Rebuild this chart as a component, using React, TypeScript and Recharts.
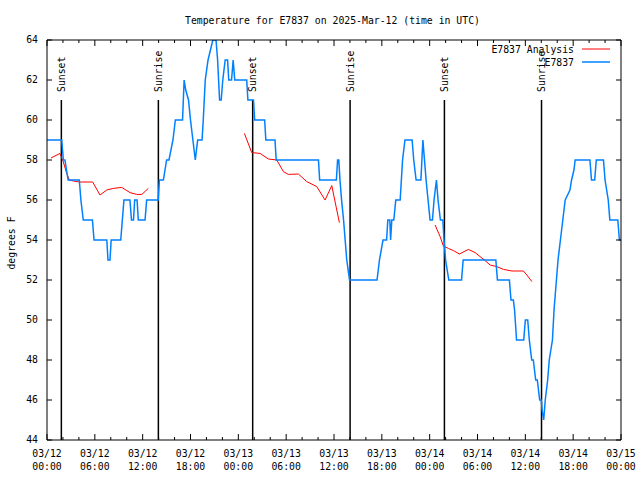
import { LineChart, Line, XAxis, YAxis, ReferenceLine } from "recharts";

// observed temperature, hours since 03/12 00:00 UTC
const blueHours = [
  0, 1.85, 2.05, 2.25, 2.65, 4.05, 4.25, 4.55, 5.7, 5.9, 7.5, 7.65, 7.9, 8.05, 9.25, 9.45, 9.65,
  10.4, 10.6, 10.85, 11.0, 11.3, 11.45, 12.3, 12.5, 13.95, 14.1, 14.6, 15.0, 15.3, 15.8, 16.1,
  17.0, 17.2, 17.4, 17.75, 18.0, 18.3, 18.6, 18.75, 18.9, 19.45, 19.6, 19.85, 20.2, 20.8, 21.2,
  21.4, 21.65, 21.85, 22.05, 22.35, 22.65, 22.8, 23.15, 23.35, 23.55, 25.05, 25.2, 25.9, 26.05,
  27.3, 27.45, 28.6, 28.75, 34.05, 34.2, 36.3, 36.45, 36.6, 36.75, 36.95, 37.2, 37.4, 37.6, 37.95,
  41.4, 41.7, 42.15, 42.6, 42.75, 43.0, 43.1, 43.25, 43.5, 43.75, 44.3, 44.45, 44.6, 44.9, 45.8,
  46.0, 46.3, 46.9, 47.15, 47.35, 47.55, 47.8, 48.05, 48.35, 48.55, 48.85, 49.05, 49.35, 49.65,
  49.8, 50.0, 50.4, 52.0, 52.2, 56.3, 56.5, 58.0, 58.2, 58.5, 58.65, 58.9, 59.8, 60.0, 60.3, 60.5,
  60.8, 61.0, 61.3, 61.5, 61.8, 62.0, 62.1, 62.3, 62.5, 62.8, 63.0, 63.4, 63.6, 63.9, 64.1, 64.4,
  64.7, 65.0, 65.6, 65.8, 66.1, 66.25, 68.1, 68.3, 68.7, 68.9, 69.8, 70.0, 70.4, 70.6, 71.6, 71.8, 72,
];
const blueTemps = [
  59, 59, 58, 58, 57, 57, 56, 55, 55, 54, 54, 53, 53, 54, 54, 55, 56,
  56, 55, 55, 56, 56, 55, 55, 56, 56, 57, 57, 58, 58, 59, 60,
  60, 62, 61.5, 61, 60, 59, 58, 58.5, 59, 59, 60, 62, 63, 64, 64,
  63, 61, 61, 62, 63, 63, 62, 62, 63, 62, 62, 61, 61, 60,
  60, 59, 59, 58, 58, 57, 57, 58, 58, 57, 56, 55, 54, 53, 52,
  52, 53, 54, 54, 55, 55, 54, 55, 55, 56, 56, 57, 58, 59, 59,
  58, 57, 57, 59, 58, 57, 56, 55, 55, 56, 57, 56, 55, 55,
  54, 53, 52, 52, 53, 53, 52, 52, 51, 51, 50.5, 49, 49, 50, 50, 49,
  48, 48, 47, 47, 46, 46, 45.5, 45, 46, 47, 48, 49, 50.5, 52, 53, 54,
  55, 56, 56.5, 57, 57.5, 58, 58, 57, 57, 58, 58, 57, 56, 55, 55, 54, 54,
];

// analysis, null = gap between runs
const redHours = [
  0.5, 1.63, 2.05, 2.47, 2.8, 3.3, 4.05, 5.73, 6.65, 7.49, 8.32, 9.37, 10.41, 11.25, 11.9, 12.71,
  18,
  24.76, 25.68, 26.73, 27.77, 28.82, 29.65, 30.28, 31.53, 32.58, 33.84, 34.88, 35.72, 36.26, 36.68,
  42,
  48.68, 49.31, 49.72, 50.35, 50.98, 51.73, 52.86, 53.7, 54.95, 55.58, 56.42, 57.25, 58.31, 59.76, 60.19, 60.82,
];
const redTemps = [
  58.1, 58.33, 57.9, 57.33, 57.0, 56.95, 56.9, 56.9, 56.25, 56.5, 56.58, 56.63, 56.37, 56.28, 56.28, 56.58,
  null,
  59.33, 58.37, 58.33, 58.05, 58.0, 57.42, 57.28, 57.3, 56.92, 56.67, 56.0, 56.72, 55.67, 54.87,
  null,
  54.75, 54.17, 53.7, 53.58, 53.47, 53.3, 53.53, 53.37, 52.97, 52.75, 52.67, 52.53, 52.45, 52.45, 52.25, 51.92,
];

const sunHours = [1.8, 13.97, 25.8, 38.02, 49.85, 62.03];
const sunLabels = ["Sunset", "Sunrise", "Sunset", "Sunrise", "Sunset", "Sunrise"];

const xTicks = [0, 2, 4, 6, 8, 10, 12, 14, 16, 18, 20, 22, 24, 26, 28, 30, 32, 34, 36, 38, 40, 42, 44, 46, 48, 50, 52, 54, 56, 58, 60, 62, 64, 66, 68, 70, 72];
const dateLabels = ["03/12", "03/12", "03/12", "03/12", "03/13", "03/13", "03/13", "03/13", "03/14", "03/14", "03/14", "03/14", "03/15"];
const timeLabels = ["00:00", "06:00", "12:00", "18:00", "00:00", "06:00", "12:00", "18:00", "00:00", "06:00", "12:00", "18:00", "00:00"];
const yTicks = [44, 46, 48, 50, 52, 54, 56, 58, 60, 62, 64];

const blueData = blueHours.map((h, i) => ({ h, t: blueTemps[i] }));
const redData = redHours.map((h, i) => ({ h, t: redTemps[i] }));

const FONT = '"DejaVu Sans Mono", monospace';
const FS = 9.8;

function BottomTick(props: any) {
  const { x, y, payload } = props;
  const v = payload.value;
  const major = v % 6 === 0;
  const i = v / 6;
  return (
    <g>
      <line x1={x} x2={x} y1={y} y2={y - (major ? 6 : 3)} stroke="#000" />
      {major && (
        <text x={x} y={y + 17} textAnchor="middle" fontFamily={FONT} fontSize={FS} fill="#000">
          <tspan x={x}>{dateLabels[i]}</tspan>
          <tspan x={x} dy={12.5}>{timeLabels[i]}</tspan>
        </text>
      )}
    </g>
  );
}

function TopTick(props: any) {
  const { x, y, payload } = props;
  const major = payload.value % 6 === 0;
  return <line x1={x} x2={x} y1={y} y2={y + (major ? 6 : 3)} stroke="#000" />;
}

function LeftTick(props: any) {
  const { x, y, payload } = props;
  return (
    <g>
      <line x1={x} x2={x + 5} y1={y} y2={y} stroke="#000" />
      <text x={x - 9} y={y} dy="0.35em" textAnchor="end" fontFamily={FONT} fontSize={FS} fill="#000">
        {payload.value}
      </text>
    </g>
  );
}

function RightTick(props: any) {
  const { x, y } = props;
  return <line x1={x - 5} x2={x} y1={y} y2={y} stroke="#000" />;
}

function sunLabel(text: string) {
  return (props: any) => {
    const vb = props.viewBox || {};
    const cx = vb.x;
    const by = vb.y - 8;
    return (
      <text
        x={cx}
        y={by}
        dy="0.38em"
        transform={`rotate(-90, ${cx}, ${by})`}
        textAnchor="start"
        fontFamily={FONT}
        fontSize={FS}
        fill="#000"
      >
        {text}
      </text>
    );
  };
}

export default function App() {
  return (
    <div style={{ position: "absolute", left: 0, top: 0, width: 640, height: 480, background: "#fff" }}>
      <LineChart width={640} height={480} margin={{ top: 0, right: 0, bottom: 0, left: 0 }}>
        <XAxis
          xAxisId="b"
          dataKey="h"
          type="number"
          domain={[0, 72]}
          allowDataOverflow
          ticks={xTicks}
          interval={0}
          height={40}
          orientation="bottom"
          tickLine={false}
          tickSize={0}
          tickMargin={0}
          axisLine={{ stroke: "#000" }}
          tick={<BottomTick />}
        />
        <XAxis
          xAxisId="t"
          dataKey="h"
          type="number"
          domain={[0, 72]}
          allowDataOverflow
          ticks={xTicks}
          interval={0}
          height={40}
          orientation="top"
          tickLine={false}
          tickSize={0}
          tickMargin={0}
          axisLine={{ stroke: "#000" }}
          tick={<TopTick />}
        />
        <YAxis
          yAxisId="l"
          type="number"
          domain={[44, 64]}
          allowDataOverflow
          ticks={yTicks}
          interval={0}
          width={47}
          orientation="left"
          tickLine={false}
          tickSize={0}
          tickMargin={0}
          axisLine={{ stroke: "#000" }}
          tick={<LeftTick />}
        />
        <YAxis
          yAxisId="r"
          type="number"
          domain={[44, 64]}
          allowDataOverflow
          ticks={yTicks}
          interval={0}
          width={19}
          orientation="right"
          tickLine={false}
          tickSize={0}
          tickMargin={0}
          axisLine={{ stroke: "#000" }}
          tick={<RightTick />}
        />
        {sunHours.map((h, i) => (
          <ReferenceLine
            key={i}
            xAxisId="b"
            yAxisId="l"
            segment={[{ x: h, y: 61 }, { x: h, y: 44 }]}
            stroke="#000"
            strokeWidth={1.5}
            label={sunLabel(sunLabels[i])}
          />
        ))}
        <Line
          xAxisId="b"
          yAxisId="l"
          data={redData}
          dataKey="t"
          name="E7837 Analysis"
          type="linear"
          stroke="#ff0000"
          strokeWidth={1}
          dot={false}
          connectNulls={false}
          isAnimationActive={false}
        />
        <Line
          xAxisId="b"
          yAxisId="l"
          data={blueData}
          dataKey="t"
          name="E7837"
          type="linear"
          stroke="#0080ff"
          strokeWidth={1.5}
          dot={false}
          isAnimationActive={false}
        />
      </LineChart>
      <svg width={640} height={480} style={{ position: "absolute", left: 0, top: 0, pointerEvents: "none" }}>
        <text x={332.5} y={23.5} textAnchor="middle" fontFamily={FONT} fontSize={FS} fill="#000">
          Temperature for E7837 on 2025-Mar-12 (time in UTC)
        </text>
        <text
          x={12}
          y={243}
          dy="0.35em"
          transform="rotate(-90, 12, 243)"
          textAnchor="middle"
          fontFamily={FONT}
          fontSize={FS}
          fill="#000"
        >
          degrees F
        </text>
        <text x={574} y={52.5} textAnchor="end" fontFamily={FONT} fontSize={FS} fill="#000">
          E7837 Analysis
        </text>
        <line x1={582} x2={610} y1={49} y2={49} stroke="#ff0000" strokeWidth={1} />
        <text x={574} y={65.5} textAnchor="end" fontFamily={FONT} fontSize={FS} fill="#000">
          E7837
        </text>
        <line x1={582} x2={610} y1={62} y2={62} stroke="#0080ff" strokeWidth={1.5} />
      </svg>
    </div>
  );
}
